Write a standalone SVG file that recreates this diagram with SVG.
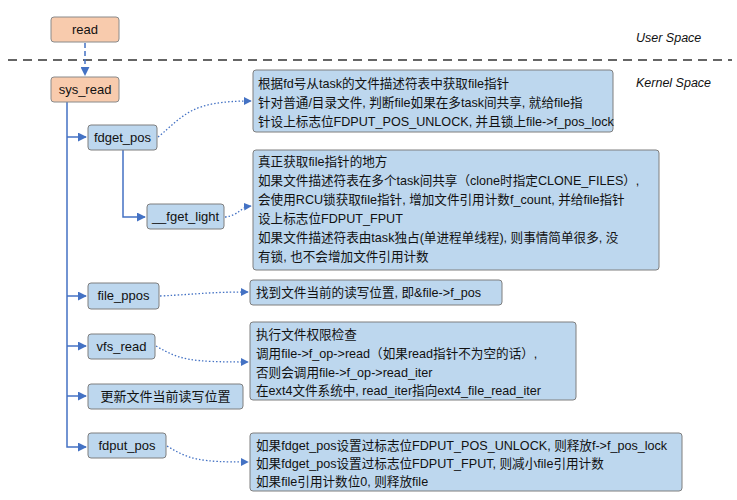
<svg xmlns="http://www.w3.org/2000/svg" width="737" height="500" viewBox="0 0 737 500">
<defs>
<marker id="a" viewBox="0 0 10 10" refX="9" refY="5" markerWidth="6" markerHeight="6" orient="auto"><path d="M0,0 L10,5 L0,10 z" fill="#4472c4"/></marker>
<style>
.or{fill:#f8cbad;stroke:#8a8a8a;stroke-width:1}
.bl{fill:#bdd7ee;stroke:#7f7f7f;stroke-width:1}
text{font-family:"Liberation Sans","Noto Sans CJK SC",sans-serif;font-size:13px;fill:#111}
.n text{font-size:12.6px}
.c{text-anchor:middle}
.it{font-style:italic;font-size:12.5px}
.s{fill:none;stroke:#4472c4;stroke-width:1.5}
.d{fill:none;stroke:#4472c4;stroke-width:1.3;stroke-dasharray:1.5 2}
</style>
</defs>
<rect width="737" height="500" fill="#fff"/>
<line x1="8" y1="60" x2="732" y2="60" stroke="#333" stroke-width="1.5" stroke-dasharray="9 6"/>
<text class="it" x="636" y="42">User Space</text>
<text class="it" x="636" y="87">Kernel Space</text>
<g id="connectors">
<path class="s" d="M85,43 V75" stroke-dasharray="5 3" marker-end="url(#a)"/>
<path class="s" d="M67,102 V447 H86" marker-end="url(#a)"/>
<path class="s" d="M67,137 H86" marker-end="url(#a)"/>
<path class="s" d="M67,296 H86" marker-end="url(#a)"/>
<path class="s" d="M67,346 H86" marker-end="url(#a)"/>
<path class="s" d="M67,396 H86" marker-end="url(#a)"/>
<path class="s" d="M123,150 V217 H145" marker-end="url(#a)"/>
<path class="d" d="M158,137 C185,115 190,101 251,101" marker-end="url(#a)"/>
<path class="d" d="M225,217 C240,215 240,207 251,206" marker-end="url(#a)"/>
<path class="d" d="M160,296 C200,294 210,292 248,292" marker-end="url(#a)"/>
<path class="d" d="M156,346 C180,360 190,362 248,362" marker-end="url(#a)"/>
<path class="d" d="M167,446 C190,460 200,462 248,462" marker-end="url(#a)"/>
</g>
<g id="read"><rect class="or" x="51" y="17" width="68" height="25" rx="3"/><text class="c" x="85" y="34">read</text></g>
<g id="sys_read"><rect class="or" x="51" y="77" width="68" height="25" rx="3"/><text class="c" x="85" y="94">sys_read</text></g>
<g id="fdget_pos"><rect class="bl" x="88" y="125" width="69" height="25" rx="3"/><text class="c" x="122.5" y="142">fdget_pos</text></g>
<g id="fget_light"><rect class="bl" x="147" y="204" width="77" height="25" rx="3"/><text class="c" x="185.5" y="221">__fget_light</text></g>
<g id="file_ppos"><rect class="bl" x="88" y="283" width="71" height="26" rx="3"/><text class="c" x="123.5" y="300">file_ppos</text></g>
<g id="vfs_read"><rect class="bl" x="88" y="334" width="67" height="25" rx="3"/><text class="c" x="121.5" y="351">vfs_read</text></g>
<g id="update"><rect class="bl" x="88" y="384" width="155" height="25" rx="3"/><text class="c" x="165.5" y="401">更新文件当前读写位置</text></g>
<g id="fdput_pos"><rect class="bl" x="88" y="433" width="78" height="25" rx="3"/><text class="c" x="127" y="450">fdput_pos</text></g>
<g id="note1" class="n"><rect class="bl" x="253" y="70" width="360" height="62" rx="3"/>
<text x="258" y="88">根据fd号从task的文件描述符表中获取file指针</text>
<text x="258" y="107">针对普通/目录文件, 判断file如果在多task间共享, 就给file指</text>
<text x="258" y="126">针设上标志位FDPUT_POS_UNLOCK, 并且锁上file-&gt;f_pos_lock</text></g>
<g id="note2" class="n"><rect class="bl" x="253" y="150" width="406" height="120" rx="3"/>
<text x="258" y="166">真正获取file指针的地方</text>
<text x="258" y="185">如果文件描述符表在多个task间共享（clone时指定CLONE_FILES）,</text>
<text x="258" y="204">会使用RCU锁获取file指针, 增加文件引用计数f_count, 并给file指针</text>
<text x="258" y="223">设上标志位FDPUT_FPUT</text>
<text x="258" y="242">如果文件描述符表由task独占(单进程单线程), 则事情简单很多, 没</text>
<text x="258" y="261">有锁, 也不会增加文件引用计数</text></g>
<g id="note3" class="n"><rect class="bl" x="250" y="280" width="252" height="25" rx="3"/>
<text x="256" y="297">找到文件当前的读写位置, 即&amp;file-&gt;f_pos</text></g>
<g id="note4" class="n"><rect class="bl" x="250" y="322" width="326" height="78" rx="3"/>
<text x="256" y="339">执行文件权限检查</text>
<text x="256" y="358">调用file-&gt;f_op-&gt;read（如果read指针不为空的话）,</text>
<text x="256" y="377">否则会调用file-&gt;f_op-&gt;read_iter</text>
<text x="256" y="395">在ext4文件系统中, read_iter指向ext4_file_read_iter</text></g>
<g id="note5" class="n"><rect class="bl" x="250" y="433" width="432" height="58" rx="3"/>
<text x="256" y="450">如果fdget_pos设置过标志位FDPUT_POS_UNLOCK, 则释放f-&gt;f_pos_lock</text>
<text x="256" y="468">如果fdget_pos设置过标志位FDPUT_FPUT, 则减小file引用计数</text>
<text x="256" y="486">如果file引用计数位0, 则释放file</text></g>
</svg>
